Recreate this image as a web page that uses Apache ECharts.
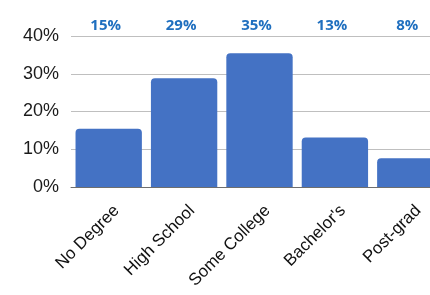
<!DOCTYPE html>
<html>
<head>
<meta charset="utf-8">
<script src="https://cdn.jsdelivr.net/npm/echarts@6/dist/echarts.min.js"></script>
<style>
  html, body { margin: 0; padding: 0; overflow: hidden; background: #fff; }
  #chart { width: 460px; height: 295px; }
</style>
</head>
<body>
<div id="chart"></div>
<script>
// 学历分布
const categories = ['No Degree', 'High School', 'Some College', "Bachelor's", 'Post-grad']
const values = [15.4, 28.8, 35.4, 13.1, 7.6]
const topLabels = ['15%', '29%', '35%', '13%', '8%']
const yTicks = [0, 10, 20, 30, 40]

// 三个网格：柱子 / 底部标签 / 顶部百分比
const baseGrid = { left: 71, right: 12, top: 36, bottom: 108 }
const hiddenY = (idx) => ({ type: 'value', gridIndex: idx, min: 0, max: 40, show: false })

const chart = echarts.init(document.getElementById('chart'), null, { renderer: 'canvas' })
chart.setOption({
  animation: false,
  grid: [
    baseGrid,
    { ...baseGrid, left: baseGrid.left + 8, right: baseGrid.right - 8 },
    { ...baseGrid, left: baseGrid.left - 3, right: baseGrid.right + 3 }
  ],
  xAxis: [
    {
      type: 'category',
      gridIndex: 0,
      data: categories,
      axisLine: { lineStyle: { color: '#6e6e6e', width: 1 } },
      axisTick: { show: false },
      axisLabel: { show: false }
    },
    {
      type: 'category',
      gridIndex: 1,
      data: categories,
      axisLine: { show: false },
      axisTick: { show: false },
      axisLabel: {
        interval: 0,
        rotate: 45,
        margin: 21,
        color: '#111',
        fontFamily: 'Liberation Sans',
        fontSize: 17
      }
    },
    {
      type: 'category',
      gridIndex: 2,
      position: 'top',
      data: topLabels,
      axisLine: { show: false },
      axisTick: { show: false },
      axisLabel: {
        interval: 0,
        margin: 3,
        color: '#1f6fbf',
        fontWeight: 'bold',
        fontFamily: 'Open Sans',
        fontSize: 15
      }
    }
  ],
  yAxis: [
    {
      type: 'value',
      gridIndex: 0,
      min: yTicks[0],
      max: yTicks[yTicks.length - 1],
      interval: 10,
      axisLine: { show: false },
      axisTick: { show: false },
      splitLine: { lineStyle: { color: '#bfbfbf', width: 1 } },
      axisLabel: {
        formatter: '{value}%',
        margin: 12,
        color: '#1a1a1a',
        fontFamily: 'Liberation Sans',
        fontSize: 18
      }
    },
    hiddenY(1),
    hiddenY(2)
  ],
  series: [{
    type: 'bar',
    xAxisIndex: 0,
    yAxisIndex: 0,
    data: values,
    barCategoryGap: '12%',
    itemStyle: { color: '#4472c4', borderRadius: [4, 4, 0, 0] }
  }]
})
</script>
</body>
</html>
